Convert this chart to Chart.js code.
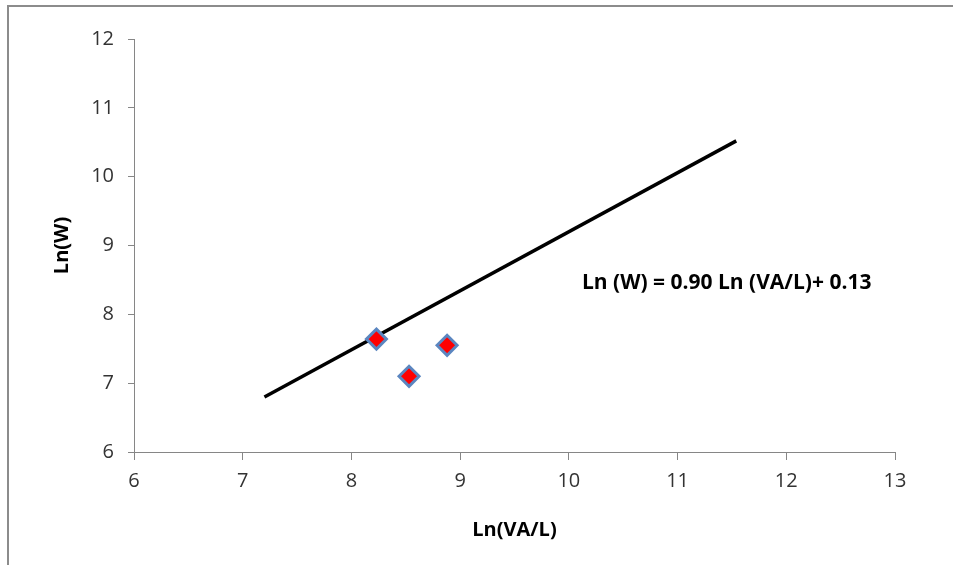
<!DOCTYPE html>
<html>
<head>
<meta charset="utf-8">
<script src="https://cdn.jsdelivr.net/npm/chart.js@4.4.1/dist/chart.umd.min.js"></script>
<style>
  html, body { margin: 0; padding: 0; background: #fff; overflow: hidden; }
  #marco { position: absolute; left: 7px; top: 5px; width: 1000px; height: 1000px;
           border-left: 2px solid #8c8c8c; border-top: 2px solid #8c8c8c; }
  #caja { position: absolute; left: 0; top: 0; width: 953px; height: 565px; }
</style>
</head>
<body>
<div id="marco"></div>
<div id="caja"><canvas id="grafico" width="953" height="565"></canvas></div>
<script>
// --- DATOS ---
const lnVAL = [8.23, 8.53, 8.88];   // Ln(VA/L) observado
const lnW   = [7.64, 7.10, 7.55];   // Ln(W) observado

// Extremos de la recta de ajuste
const rectaX = [7.20, 11.54];
const rectaY = [6.80, 10.52];

const ticksX = [6, 7, 8, 9, 10, 11, 12, 13];
const ticksY = [6, 7, 8, 9, 10, 11, 12];

const ecuacion = 'Ln (W) = 0.90 Ln (VA/L)+ 0.13';
const ecuacionPos = { x: 10.12, y: 8.46 };

const fuente = '"Open Sans", Lato, sans-serif';
const gris = '#868686';

// Texto de la ecuación sobre el área del gráfico
const textoEcuacion = {
    id: 'textoEcuacion',
    afterDatasetsDraw(chart) {
        const { ctx, scales: { x, y } } = chart;
        ctx.save();
        ctx.font = 'bold 21px ' + fuente;
        ctx.fillStyle = '#000';
        ctx.textAlign = 'left';
        ctx.textBaseline = 'middle';
        ctx.fillText(ecuacion, x.getPixelForValue(ecuacionPos.x), y.getPixelForValue(ecuacionPos.y));
        ctx.restore();
    }
};

const grafico = document.getElementById('grafico');
const chart = new Chart(grafico, {
    type: 'scatter',
    data: {
        datasets: [
            {
                label: 'Recta',
                data: rectaX.map((v, i) => ({ x: v, y: rectaY[i] })),
                showLine: true,
                borderColor: '#000',
                borderWidth: 3.5,
                pointRadius: 0,
                fill: false,
                order: 2
            },
            {
                label: 'Observado',
                data: lnVAL.map((v, i) => ({ x: v, y: lnW[i] })),
                pointStyle: 'rectRot',
                pointRadius: 10,
                backgroundColor: '#ff0000',
                borderColor: '#5b86c0',
                borderWidth: 3,
                order: 1
            }
        ]
    },
    options: {
        responsive: false,
        animation: false,
        events: [],
        layout: { padding: { top: 39, right: 58, left: 0, bottom: 0 } },
        plugins: { legend: { display: false }, tooltip: { enabled: false } },
        scales: {
            x: {
                type: 'linear',
                min: 6, max: 13,
                afterBuildTicks: s => { s.ticks = ticksX.map(v => ({ value: v })); },
                afterFit: s => { s.height = 113; },
                grid: { drawOnChartArea: false, drawTicks: true, tickLength: 8, color: gris },
                border: { display: true, color: gris, width: 1 },
                ticks: { color: '#333', padding: 9, font: { family: fuente, size: 20 } },
                title: { display: true, text: 'Ln(VA/L)', color: '#000',
                         font: { family: fuente, size: 20, weight: 'bold' }, padding: { bottom: 23 } }
            },
            y: {
                type: 'linear',
                min: 6, max: 12,
                afterBuildTicks: s => { s.ticks = ticksY.map(v => ({ value: v })); },
                afterFit: s => { s.width = 134; },
                grid: { drawOnChartArea: false, drawTicks: true, tickLength: 6, color: gris },
                border: { display: true, color: gris, width: 1 },
                ticks: { color: '#333', padding: 14, font: { family: fuente, size: 20 } },
                title: { display: true, text: 'Ln(W)', color: '#000',
                         font: { family: fuente, size: 20, weight: 'bold' }, padding: { top: 50 } }
            }
        }
    },
    plugins: [textoEcuacion]
});
</script>
</body>
</html>
